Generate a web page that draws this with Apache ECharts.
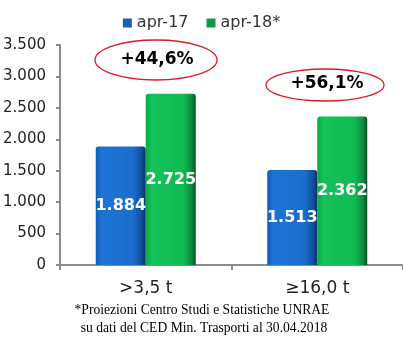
<!DOCTYPE html>
<html><head><meta charset="utf-8">
<script src="https://cdn.jsdelivr.net/npm/echarts@6/dist/echarts.min.js"></script>
<style>html,body{margin:0;padding:0;background:#fff}#c{width:403px;height:345px}</style>
</head><body><div id="c"></div>
<script>
var categories = ['>3,5 t', '≥16,0 t'];
var seriesNames = ['apr-17', 'apr-18*'];
var apr17 = [1884, 1513];
var apr18 = [2725, 2362];
var growthLabels = ['+44,6%', '+56,1%'];
var yTicks = [0, 500, 1000, 1500, 2000, 2500, 3000, 3500];

function fmt(v){ return String(v).replace(/\B(?=(\d{3})+(?!\d))/g, '.'); }

var blueGrad = new echarts.graphic.LinearGradient(0,0,1,0,[
  {offset:0,color:'#0f5cb5'},{offset:0.12,color:'#1e74d6'},{offset:0.75,color:'#1a6dcc'},{offset:0.92,color:'#0f4f9c'},{offset:1,color:'#0a2f5e'}]);
var greenGrad = new echarts.graphic.LinearGradient(0,0,1,0,[
  {offset:0,color:'#0aa845'},{offset:0.12,color:'#14c258'},{offset:0.75,color:'#10bb52'},{offset:0.92,color:'#0b8a3c'},{offset:1,color:'#064d22'}]);

var FONT = '"DejaVu Sans", Verdana, sans-serif';
var chart = echarts.init(document.getElementById('c'), null, {renderer:'canvas'});
var labelStyle = {show:true, position:'inside', color:'#fff', fontFamily:FONT, fontWeight:'bold', fontSize:16, formatter:function(p){return fmt(p.value);}};
chart.setOption({
  animation:false,
  legend:{top:10, left:'center', icon:'rect', itemWidth:9, itemHeight:9, itemGap:18,
    textStyle:{fontFamily:FONT, fontSize:16, color:'#333'},
    data:[{name:seriesNames[0], itemStyle:{color:'#1a5fb0'}},{name:seriesNames[1], itemStyle:{color:'#109a48'}}]},
  grid:{left:60, top:45, width:346, height:220, containLabel:false},
  xAxis:{type:'category', data:categories,
    axisLine:{lineStyle:{color:'#8c8c8c', width:2}},
    axisTick:{show:true, length:5, lineStyle:{color:'#8c8c8c', width:2}},
    axisLabel:{fontFamily:FONT, fontSize:17, color:'#222', margin:15}},
  yAxis:{type:'value', min:yTicks[0], max:yTicks[yTicks.length-1], interval:500,
    splitLine:{show:false},
    axisLine:{show:true, lineStyle:{color:'#8c8c8c', width:2}},
    axisTick:{show:true, length:4, lineStyle:{color:'#8c8c8c', width:2}},
    axisLabel:{fontFamily:FONT, fontSize:15, color:'#222', margin:14, formatter:function(v){return fmt(v);}}},
  series:[
    {name:seriesNames[0], type:'bar', data:apr17, barWidth:50, barGap:'0%', itemStyle:{color:blueGrad, borderRadius:[3,3,0,0]}, label:labelStyle},
    {name:seriesNames[1], type:'bar', data:apr18, barWidth:50, barGap:'0%', itemStyle:{color:greenGrad, borderRadius:[3,3,0,0]}, label:labelStyle}
  ],
  graphic:[
    {type:'ellipse', shape:{cx:156, cy:60, rx:61, ry:20}, style:{fill:'none', stroke:'#d91c2a', lineWidth:1.3}},
    {type:'text', x:157, y:60, style:{text:growthLabels[0], fontFamily:FONT, fontWeight:'bold', fontSize:17, fill:'#000', align:'center', verticalAlign:'middle'}},
    {type:'ellipse', shape:{cx:325, cy:85, rx:59, ry:16}, style:{fill:'none', stroke:'#d91c2a', lineWidth:1.3}},
    {type:'text', x:327, y:84, style:{text:growthLabels[1], fontFamily:FONT, fontWeight:'bold', fontSize:17, fill:'#000', align:'center', verticalAlign:'middle'}},
    {type:'text', x:202, y:310, style:{text:'*Proiezioni Centro Studi e Statistiche UNRAE', fontFamily:'"Liberation Serif", serif', fontSize:13.6, fill:'#000', align:'center', verticalAlign:'middle'}},
    {type:'text', x:204, y:328, style:{text:'su dati del CED Min. Trasporti al 30.04.2018', fontFamily:'"Liberation Serif", serif', fontSize:13.6, fill:'#000', align:'center', verticalAlign:'middle'}}
  ]
});
</script></body></html>
